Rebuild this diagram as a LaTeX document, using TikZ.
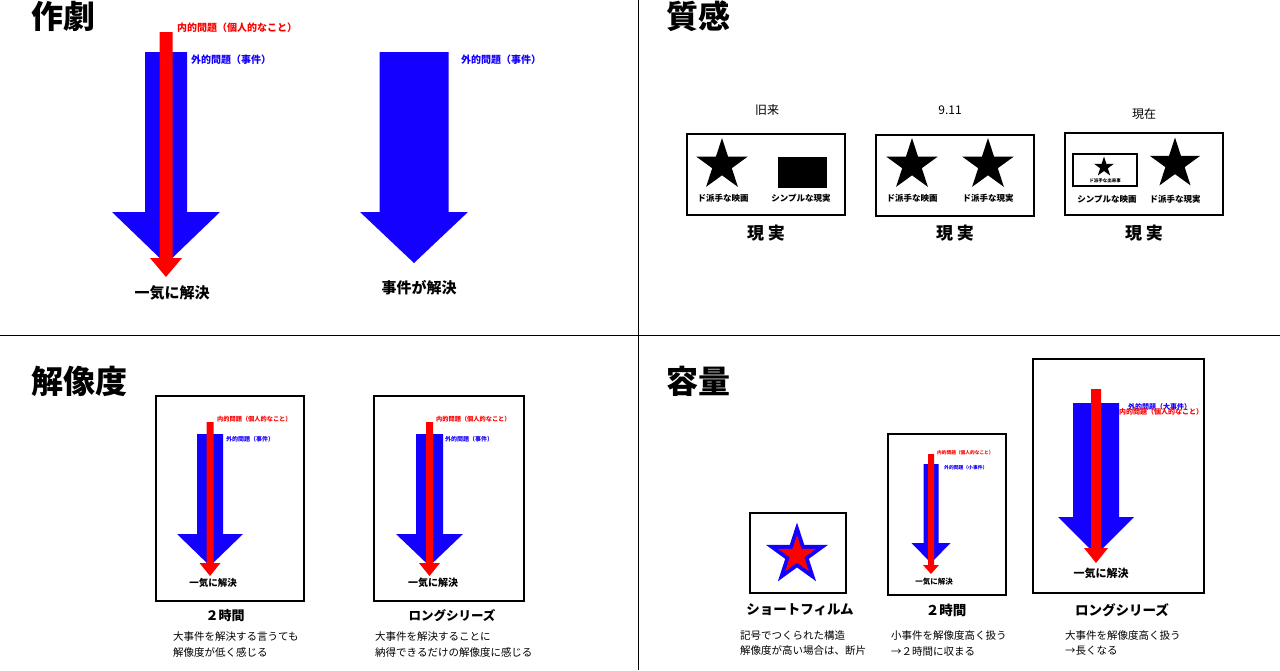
\documentclass[tikz,border=0pt]{standalone}
\usepackage{fontspec}
\setmainfont{Noto Sans CJK JP}
\usetikzlibrary{shapes.geometric}
\definecolor{evblue}{RGB}{20,0,255}
\definecolor{evred}{RGB}{255,0,0}

% block arrow: [colour] centre x, top, shaft end, tip, half shaft, half head
\newcommand{\blockarrow}[7][evblue]{%
  \fill[#1] ({#2-#6},#3) -- ({#2+#6},#3) -- ({#2+#6},#4) -- ({#2+#7},#4)
    -- (#2,#5) -- ({#2-#7},#4) -- ({#2-#6},#4) -- cycle;}

\begin{document}
\begin{tikzpicture}[x=1pt, y=-1pt, inner sep=0pt,
    fs/.style={font=\fontsize{#1}{#1}\selectfont},
    fsb/.style={font=\bfseries\fontsize{#1}{#1}\selectfont},
    headtxt/.style={fsb=32},
    lab/.style={fsb=#1, anchor=west},
    captxt/.style={fs=10.5, anchor=west},
    frame/.style={draw, line width=1.4pt},
    bstar/.style={star, star points=5, star point ratio=2.618, fill=black, minimum size=#1}]

\useasboundingbox (0,0) rectangle (1280,670);
\fill[white] (0,0) rectangle (1280,670);
\coordinate (vtop) at (638,0);
\coordinate (vbot) at (638,670);
\coordinate (hl) at (0,335);
\coordinate (hr) at (1280,335);
\draw[line width=1pt] (vtop) -- (vbot);
\draw[line width=1pt] (hl) -- (hr);

% 作劇
\node[headtxt] (drama) at (63,16) {作劇};
\blockarrow{166}{52}{212}{264}{21}{54}
\blockarrow[evred]{166}{32}{258}{277}{6.5}{16}
\node[lab=10, text=evred] (inner1) at (177,28) {内的問題（個人的なこと）};
\node[lab=10, text=evblue] (outer1) at (191,60) {外的問題（事件）};
\node[fsb=15] (solve1) at (172,293) {一気に解決};
\blockarrow{414}{52}{212}{263}{34.5}{54}
\node[lab=10, text=evblue] (outer2) at (461,60) {外的問題（事件）};
\node[fsb=15] (solve2) at (419,288) {事件が解決};

% 質感
\node[headtxt] (texture) at (698,16) {質感};
\node[fs=12] (old) at (767,110) {旧来};
\node[fs=12] (nine) at (950,110) {9.11};
\node[fs=12] (now) at (1144,114) {現在};
\node[frame, minimum width=158pt, minimum height=81pt] (box1) at (766,174.5) {};
\node[frame, minimum width=158pt, minimum height=81pt] (box2) at (955,175.5) {};
\node[frame, minimum width=158pt, minimum height=82pt] (box3) at (1144,174) {};
\node[bstar=54pt] (s1) at (722,165) {};
\fill (778,157) rectangle (827,188);
\node[fsb=8.5] (l1a) at (723,198) {ド派手な映画};
\node[fsb=8.5] (l1b) at (801,198) {シンプルな現実};
\node[bstar=54pt] (s2a) at (912,165) {};
\node[bstar=54pt] (s2b) at (988,165) {};
\node[fsb=8.5] (l2a) at (912,198) {ド派手な映画};
\node[fsb=8.5] (l2b) at (988,198) {ド派手な現実};
\node[draw, line width=1.2pt, minimum width=64pt, minimum height=32pt] (inbox) at (1105,170) {};
\node[bstar=21pt] (s3a) at (1104,167) {};
\node[fsb=4.5] (l3s) at (1105,181) {ド派手な出来事};
\node[bstar=53pt] (s3b) at (1175,164) {};
\node[fsb=8.5] (l3a) at (1107,199) {シンプルな映画};
\node[fsb=8.5] (l3b) at (1175,199) {ド派手な現実};
\foreach \cx/\nm in {766/r1, 955/r2, 1144/r3}
  \node[fsb=17] (\nm) at (\cx,233) {現 実};

% 解像度
\node[headtxt] (resol) at (79,381) {解像度};
\node[draw, line width=1.2pt, minimum width=148pt, minimum height=205pt] (boxA) at (230,498.5) {};
\node[frame, line width=1.8pt, minimum width=150pt, minimum height=205pt] (boxB) at (449,498.5) {};
\blockarrow{210}{434}{534}{566}{13}{33}
\blockarrow[evred]{210}{422}{563}{576}{3.5}{10.5}
\node[lab=6.2, text=evred] (innerA) at (217,419) {内的問題（個人的なこと）};
\node[lab=6, text=evblue] (outerA) at (226,439) {外的問題（事件）};
\node[fsb=9.5] (solveA) at (213,583) {一気に解決};
\blockarrow{429.5}{434}{534}{566}{13.5}{33.5}
\blockarrow[evred]{429.5}{422}{563}{576}{3.5}{10.5}
\node[lab=6.2, text=evred] (innerB) at (436,419) {内的問題（個人的なこと）};
\node[lab=6, text=evblue] (outerB) at (445,439) {外的問題（事件）};
\node[fsb=10] (solveB) at (433,583) {一気に解決};
\node[fsb=13] (twoA) at (225,616) {２時間};
\node[fsb=12.5] (longA) at (452,616) {ロングシリーズ};
\node[captxt] (cA1) at (173,637) {大事件を解決する言うても};
\node[captxt] (cA2) at (173,652) {解像度が低く感じる};
\node[captxt] (cB1) at (375,637) {大事件を解決することに};
\node[captxt] (cB2) at (375,652) {納得できるだけの解像度に感じる};

% 容量
\node[headtxt] (volume) at (698,381) {容量};
\node[frame, minimum width=96pt, minimum height=80pt] (boxS) at (798,553) {};
\node[frame, minimum width=118pt, minimum height=161pt] (boxT) at (947,514.5) {};
\node[frame, minimum width=171pt, minimum height=234pt] (boxL) at (1118.5,476) {};
\node[bstar=65pt, fill=evblue] (sS) at (797,555) {};
\node[bstar=40pt, fill=evred] (sSin) at (797,555) {};
\blockarrow{931}{464}{543}{563}{7.5}{19.5}
\blockarrow[evred]{931}{454}{565}{574}{3}{8}
\node[lab=4.7, text=evred] (innerT) at (937,453) {内的問題（個人的なこと）};
\node[lab=4.8, text=evblue] (outerT) at (944,468) {外的問題（小事件）};
\node[fsb=7.5] (solveT) at (934,582) {一気に解決};
\blockarrow{1096}{403}{517}{555}{23}{38}
\blockarrow[evred]{1096}{389}{548}{563}{5}{12}
\node[lab=7, text=evblue] (outerL) at (1128,407) {外的問題（大事件）};
\node[lab=7, text=evred] (innerL) at (1119,412) {内的問題（個人的なこと）};
\node[fsb=11] (solveL) at (1101,573) {一気に解決};
\node[fsb=13.5] (shortS) at (800,610) {ショートフィルム};
\node[fsb=13.5] (twoT) at (946,610) {２時間};
\node[fsb=13.5] (longL) at (1122,610) {ロングシリーズ};
\node[captxt] (cS1) at (740,636) {記号でつくられた構造};
\node[captxt] (cS2) at (740,651) {解像度が高い場合は、断片};
\node[captxt] (cT1) at (891,636) {小事件を解像度高く扱う};
\node[captxt] (cT2) at (891,651) {→２時間に収まる};
\node[captxt] (cL1) at (1065,636) {大事件を解像度高く扱う};
\node[captxt] (cL2) at (1065,651) {→長くなる};
\end{tikzpicture}
\end{document}
